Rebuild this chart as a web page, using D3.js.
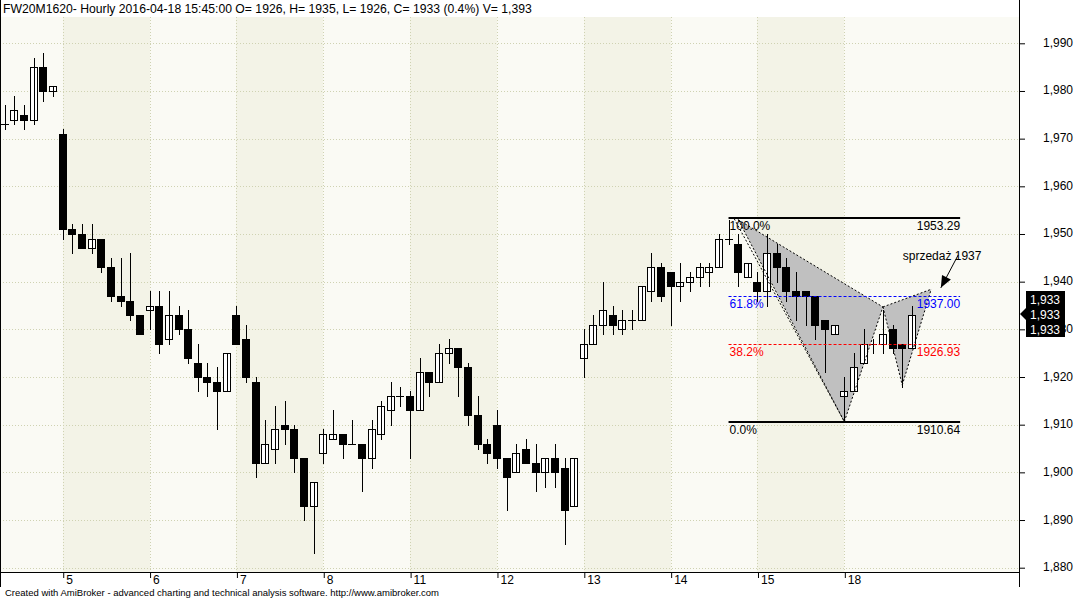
<!DOCTYPE html>
<html><head><meta charset="utf-8">
<script src="https://cdn.jsdelivr.net/npm/d3@7"></script>
<style>
body{margin:0;background:#fff;}
svg{display:block;font-family:"Liberation Sans",Arial,sans-serif;}
</style>
</head><body>
<svg id="c" width="1079" height="599"></svg>
<script>
// ---- data ----
const dayLabels = ["5","6","7","8","11","12","13","14","15","18"];
const dayStart  = [6,15,24,33,42,51,60,69,78,87];
const opens  = [1973,1974,1975,1974,1985,1980,1971,1951,1950,1947,1949,1943,1937,1936,1933,1934,1935,1928,1933,1930,1923,1920,1919,1917,1933,1928,1919,1902,1905,1910,1909,1903,1893,1904,1907,1908,1906,1906,1903,1908,1913,1916,1916,1913,1921,1919,1925,1926,1922,1912,1906,1910,1903,1900,1905,1902,1900,1903,1901,1893,1924,1927,1931,1933,1930,1932,1932,1938,1943,1942,1939,1940,1941,1942,1943,1949,1948,1941,1940,1938,1946,1943,1938,1938,1937,1932,1929,1916,1917,1923,1927,1927,1930,1927,1926];
const highs  = [1977,1979,1977,1987,1988,1981,1972,1952,1952,1952,1949,1945,1945,1946,1933,1938,1938,1938,1935,1934,1927,1923,1922,1925,1935,1931,1920,1911,1914,1915,1910,1903,1898,1909,1913,1908,1911,1906,1911,1915,1919,1918,1917,1924,1921,1927,1928,1926,1923,1916,1907,1913,1903,1906,1907,1906,1903,1906,1903,1903,1930,1933,1940,1935,1934,1934,1939,1946,1944,1942,1944,1942,1944,1944,1950,1953,1950,1944,1942,1950,1948,1945,1942,1938,1937,1932,1931,1920,1925,1930,1928,1934,1931,1927,1935];
const lows   = [1972,1973,1972,1973,1978,1979,1949,1946,1947,1946,1942,1936,1935,1932,1929,1930,1925,1927,1929,1923,1917,1916,1909,1917,1927,1919,1899,1902,1902,1906,1900,1890,1883,1902,1907,1903,1906,1896,1901,1907,1910,1914,1903,1913,1916,1919,1923,1916,1910,1905,1902,1901,1892,1900,1902,1896,1897,1897,1885,1893,1920,1927,1929,1929,1929,1930,1932,1936,1936,1931,1936,1938,1939,1939,1943,1948,1939,1941,1936,1935,1940,1936,1932,1931,1928,1921,1929,1911,1917,1923,1925,1925,1925,1918,1926];
const closes = [1973,1976,1974,1985,1980,1981,1951,1950,1947,1949,1943,1937,1936,1933,1929,1935,1927,1933,1930,1924,1920,1919,1917,1925,1927,1920,1902,1906,1909,1909,1903,1893,1898,1908,1908,1906,1906,1903,1909,1914,1916,1916,1913,1921,1919,1925,1926,1922,1912,1906,1904,1903,1899,1904,1902,1900,1903,1900,1892,1903,1927,1931,1934,1931,1932,1932,1939,1943,1937,1939,1940,1941,1943,1943,1949,1949,1942,1944,1938,1946,1943,1938,1937,1937,1931,1930,1931,1917,1922,1927,1927,1929,1926,1926,1933];
const priceTicks = [1880,1890,1900,1910,1920,1930,1940,1950,1960,1970,1980,1990];
const fibLevels = [1953.29, 1937.00, 1926.93, 1910.64];
const fibPct    = ["100.0%","61.8%","38.2%","0.0%"];
const fibValTxt = ["1953.29","1937.00","1926.93","1910.64"];
const fibStart = 75, fibEnd = 99;
// harmonic pattern points X, A, B, C, D (bar index, price)
const patIdx   = [76.0, 87.0, 91.0, 93.0, 96.0];
const patPrice = [1953.0, 1910.64, 1934.7, 1918.3, 1938.4];
const noteText = "sprzedaż 1937";
const noteIdx = 93.05, notePrice = 1944.6;
const arrowFrom = [98.8, 1945.6], arrowTo = [97.0, 1938.7];
const lastLabels = ["1,933","1,933","1,933"];
const title = "FW20M1620- Hourly 2016-04-18 15:45:00 O= 1926, H= 1935, L= 1926, C= 1933 (0.4%) V= 1,393";
const footer = "Created with AmiBroker - advanced charting and technical analysis software. http://www.amibroker.com";

// ---- layout ----
const W = 1079, H = 599;
const plotL = 0, plotR = 1019, plotT = 17, plotB = 572;
const x = d3.scaleLinear().domain([-0.5, 105.1]).range([plotL, plotR]);
const y = d3.scaleLinear().domain([1880, 1990]).range([567.7, 43.3]);
const svg = d3.select("#c");

svg.append("rect").attr("width",W).attr("height",H).attr("fill","#ffffff");
// plot background
svg.append("rect").attr("x",plotL).attr("y",plotT).attr("width",plotR-plotL).attr("height",plotB-plotT).attr("fill","#fafaf4");
// alternating day shading
dayStart.forEach((s,k)=>{
  if(k%2===0){
    const x0 = Math.round(x(s)), x1 = k+1<dayStart.length ? Math.round(x(dayStart[k+1])) : plotR;
    svg.append("rect").attr("x",x0).attr("y",plotT).attr("width",x1-x0).attr("height",plotB-plotT).attr("fill","#f3f3e7");
  }
});
// grid
const grid = svg.append("g").attr("stroke","#cfd2b2").attr("stroke-width",1).attr("stroke-dasharray","1,2");
priceTicks.forEach(p=>{
  const yy = Math.round(y(p))+0.5;
  grid.append("line").attr("x1",plotL).attr("x2",plotR).attr("y1",yy).attr("y2",yy);
});
dayStart.forEach(s=>{
  const xx = Math.round(x(s))+0.5;
  grid.append("line").attr("x1",xx).attr("x2",xx).attr("y1",plotT).attr("y2",plotB);
});

// pattern fill
const P = patIdx.map((d,i)=>[x(d), y(patPrice[i])]);
const pg = svg.append("g");
pg.append("path").attr("d", d3.line()([P[0],P[1],P[2]])+"Z").attr("fill","#c0c0c0");
pg.append("path").attr("d", d3.line()([P[2],P[3],P[4]])+"Z").attr("fill","#c0c0c0");

// candles
const cg = svg.append("g");
opens.forEach((o,i)=>{
  const c = closes[i];
  const cx = Math.round(x(i));
  const yt = Math.round(y(Math.max(o,c))), yb = Math.round(y(Math.min(o,c)));
  const up = c >= o;
  if(yb - yt < 1){
    cg.append("line").attr("x1",cx-4).attr("x2",cx+4).attr("y1",yt+0.5).attr("y2",yt+0.5).attr("stroke","#000");
  } else {
    cg.append("rect").attr("x",cx-3.5).attr("y",yt+0.5).attr("width",7).attr("height",yb-yt)
      .attr("fill", up ? "#ffffff" : "#000000").attr("stroke","#000").attr("stroke-width",1);
  }
  cg.append("line").attr("x1",cx+0.5).attr("x2",cx+0.5)
    .attr("y1",Math.round(y(highs[i]))).attr("y2",Math.round(y(lows[i]))+1)
    .attr("stroke","#000").attr("stroke-width",1);
});

// pattern dashed edges
const dg = svg.append("g").attr("stroke","#000").attr("stroke-width",1).attr("stroke-dasharray","2,2").attr("fill","none");
[[0,1],[1,2],[0,2],[2,3],[3,4],[2,4]].forEach(([a,b])=>{
  dg.append("line").attr("x1",P[a][0]).attr("y1",P[a][1]).attr("x2",P[b][0]).attr("y2",P[b][1]);
});
dg.append("line").attr("x1",P[0][0]-4).attr("y1",P[0][1]-1).attr("x2",P[1][0]).attr("y2",P[1][1]);

// fib lines
const fibCol = ["#000000","#0000ff","#ff0000","#000000"];
fibLevels.forEach((lv,k)=>{
  const yy = Math.round(y(lv));
  const solid = (k===0||k===3);
  svg.append("line").attr("x1",x(fibStart)).attr("x2",x(fibEnd)).attr("y1",solid?yy:yy+0.5).attr("y2",solid?yy:yy+0.5)
    .attr("stroke",fibCol[k]).attr("stroke-width",solid?2:1).attr("stroke-dasharray",solid?null:"3,2");
  svg.append("text").attr("x",x(fibStart)+1).attr("y",yy+12).attr("font-size",12).attr("fill",fibCol[k]).text(fibPct[k]);
  svg.append("text").attr("x",x(fibEnd)).attr("y",yy+12).attr("font-size",12).attr("fill",fibCol[k]).attr("text-anchor","end").text(fibValTxt[k]);
});

// note + arrow
svg.append("text").attr("x",x(noteIdx)).attr("y",y(notePrice)).attr("font-size",12).attr("fill","#000").text(noteText);
const a0 = [x(arrowFrom[0]), y(arrowFrom[1])], a1 = [x(arrowTo[0]), y(arrowTo[1])];
svg.append("line").attr("x1",a0[0]).attr("y1",a0[1]).attr("x2",a1[0]).attr("y2",a1[1]).attr("stroke","#000").attr("stroke-width",1);
{
  const dx=a1[0]-a0[0], dy=a1[1]-a0[1], L=Math.hypot(dx,dy), ux=dx/L, uy=dy/L;
  const bx=a1[0]-ux*12, by=a1[1]-uy*12;
  svg.append("path").attr("d",`M${a1[0]},${a1[1]}L${bx-uy*5},${by+ux*5}L${bx+uy*5},${by-ux*5}Z`).attr("fill","#000");
}

// axes
svg.append("line").attr("x1",0.5).attr("x2",0.5).attr("y1",0).attr("y2",587).attr("stroke","#000");
svg.append("line").attr("x1",plotR+0.5).attr("x2",plotR+0.5).attr("y1",0).attr("y2",587).attr("stroke","#000");
svg.append("line").attr("x1",0).attr("x2",plotR+1).attr("y1",plotB+0.5).attr("y2",plotB+0.5).attr("stroke","#000");

const ya = svg.append("g").attr("transform",`translate(${plotR+1},0)`)
  .call(d3.axisRight(y).tickValues(priceTicks).tickSize(5).tickPadding(18).tickFormat(d3.format(",")));
ya.select(".domain").remove();
ya.selectAll("text").attr("font-size",12).attr("font-family","Liberation Sans, Arial, sans-serif").attr("fill","#000").attr("dy","0.25em");
ya.selectAll("line").attr("stroke","#000");

const xa = svg.append("g").attr("transform",`translate(0,${plotB+1})`)
  .call(d3.axisBottom(x).tickValues(dayStart).tickSize(5).tickFormat((d,i)=>dayLabels[i]));
xa.select(".domain").remove();
xa.selectAll(".tick line").attr("stroke","#000").attr("transform","translate(0.5,0)");
xa.selectAll("text").attr("font-size",12).attr("font-family","Liberation Sans, Arial, sans-serif").attr("fill","#000")
  .attr("text-anchor","start").attr("x",3).attr("y",2).attr("dy","0.71em");

// last price boxes
const lp = svg.append("g");
lp.append("rect").attr("x",1026).attr("y",291).attr("width",39).attr("height",46).attr("fill","#000");
lp.append("path").attr("d","M1020,314L1026,308L1026,320Z").attr("fill","#000");
lastLabels.forEach((t,k)=>{
  lp.append("text").attr("x",1030).attr("y",303.5+k*15).attr("font-size",12).attr("fill","#fff").text(t);
});

// title & footer
svg.append("text").attr("x",3).attr("y",13).attr("font-size",12.2).attr("fill","#000").text(title);
svg.append("text").attr("x",5).attr("y",596).attr("font-size",9.5).attr("fill","#000").text(footer);
</script>
</body></html>
